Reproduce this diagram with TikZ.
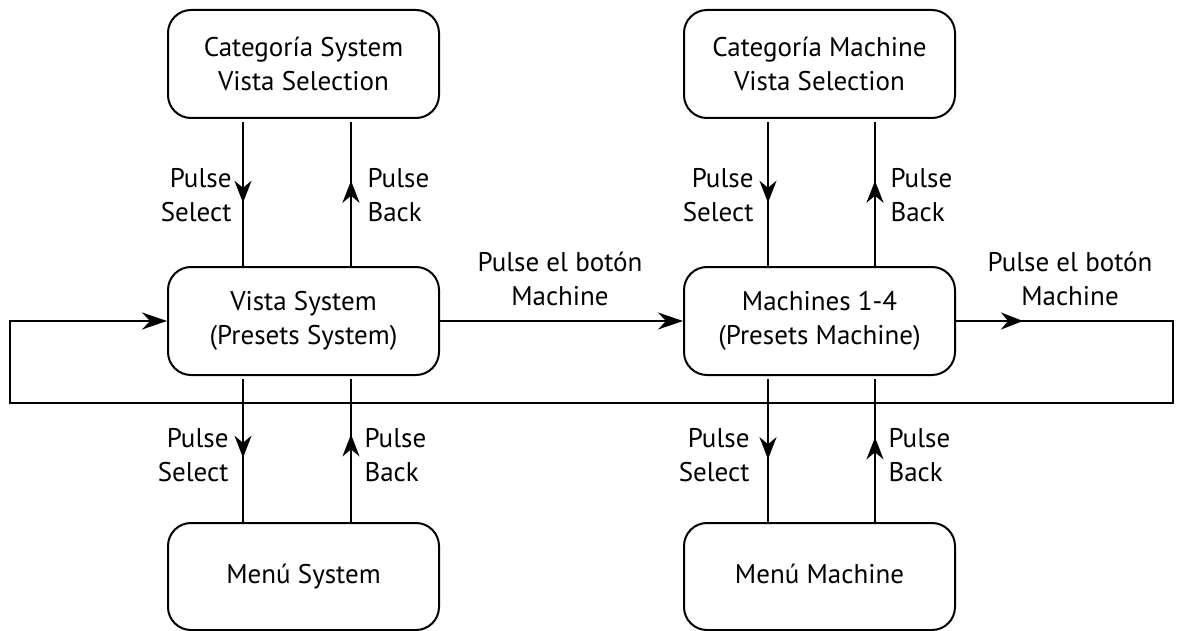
\documentclass[tikz,border=0pt]{standalone}
\usepackage{fontspec}
\setmainfont{PT Sans}
\usetikzlibrary{arrows.meta,decorations.markings}
\tikzset{
  x=1pt, y=-1pt,
  box/.style={draw, line width=2pt, rounded corners=23pt, minimum width=271pt, minimum height=108pt, align=center, inner sep=0pt},
  conn/.style={line width=2pt},
  midarrow/.style={conn, postaction={decorate}, decoration={markings, mark=at position #1 with {\arrow{Stealth[length=22pt,width=17pt,inset=7pt]}}}},
  endarrow/.style={conn, -{Stealth[length=25pt,width=17pt,inset=8pt]}},
  lblL/.style={anchor=east, align=right},
  lblR/.style={anchor=west, align=left},
  lblC/.style={align=center},
}
\begin{document}
\begin{tikzpicture}[font=\fontsize{27}{34}\selectfont]
\useasboundingbox (0,0) rectangle (1178,631);
\node[box] (TL) at (303.5,64) {Categoría System\\Vista Selection};
\node[box] (TR) at (819.5,64) {Categoría Machine\\Vista Selection};
\node[box] (ML) at (303.5,321) {Vista System\\(Presets System)};
\node[box] (MR) at (819.5,321) {Machines 1-4\\(Presets Machine)};
\node[box, minimum height=107pt] (BL) at (303.5,576.5) {\strut Menú System};
\node[box, minimum height=107pt] (BR) at (819.5,576.5) {\strut Menú Machine};
% left column verticals
\draw[midarrow=0.57, shorten <=3pt] ([xshift=-60.5pt]TL.south) -- ([xshift=-60.5pt]ML.north);
\draw[midarrow=0.58, shorten >=3pt] ([xshift=47.5pt]ML.north) -- ([xshift=47.5pt]TL.south);
\draw[midarrow=0.56, shorten <=3pt] ([xshift=-60.5pt]ML.south) -- ([xshift=-60.5pt]BL.north);
\draw[midarrow=0.6, shorten >=3pt] ([xshift=47.5pt]BL.north) -- ([xshift=47.5pt]ML.south);
% right column verticals
\draw[midarrow=0.57, shorten <=3pt] ([xshift=-51.5pt]TR.south) -- ([xshift=-51.5pt]MR.north);
\draw[midarrow=0.58, shorten >=3pt] ([xshift=55.5pt]MR.north) -- ([xshift=55.5pt]TR.south);
\draw[midarrow=0.57, shorten <=3pt] ([xshift=-51.5pt]MR.south) -- ([xshift=-51.5pt]BR.north);
\draw[midarrow=0.58, shorten >=3pt] ([xshift=55.5pt]BR.north) -- ([xshift=55.5pt]MR.south);
% labels
\node[lblL] (l1) at (235,195) {Pulse\\Select};
\node[lblR] (l2) at (364,195) {Pulse\\Back};
\node[lblL] (l3) at (232,455) {Pulse\\Select};
\node[lblR] (l4) at (361,455) {Pulse\\Back};
\node[lblL] (l5) at (757,195) {Pulse\\Select};
\node[lblR] (l6) at (887,195) {Pulse\\Back};
\node[lblL] (l7) at (753,455) {Pulse\\Select};
\node[lblR] (l8) at (885,455) {Pulse\\Back};
% horizontal
\draw[endarrow] (ML.east) -- (MR.west);
\node[lblC] (h1) at (560,279) {Pulse el botón\\Machine};
\coordinate (c1) at (1173,321);
\coordinate (c2) at (1173,403);
\coordinate (c3) at (10,403);
\coordinate (c4) at (10,321);
\draw[endarrow, midarrow=67pt] (MR.east) -- (c1) -- (c2) -- (c3) -- (c4) -- (ML.west);
\node[lblC] (h2) at (1070,279) {Pulse el botón\\Machine};
\end{tikzpicture}
\end{document}
